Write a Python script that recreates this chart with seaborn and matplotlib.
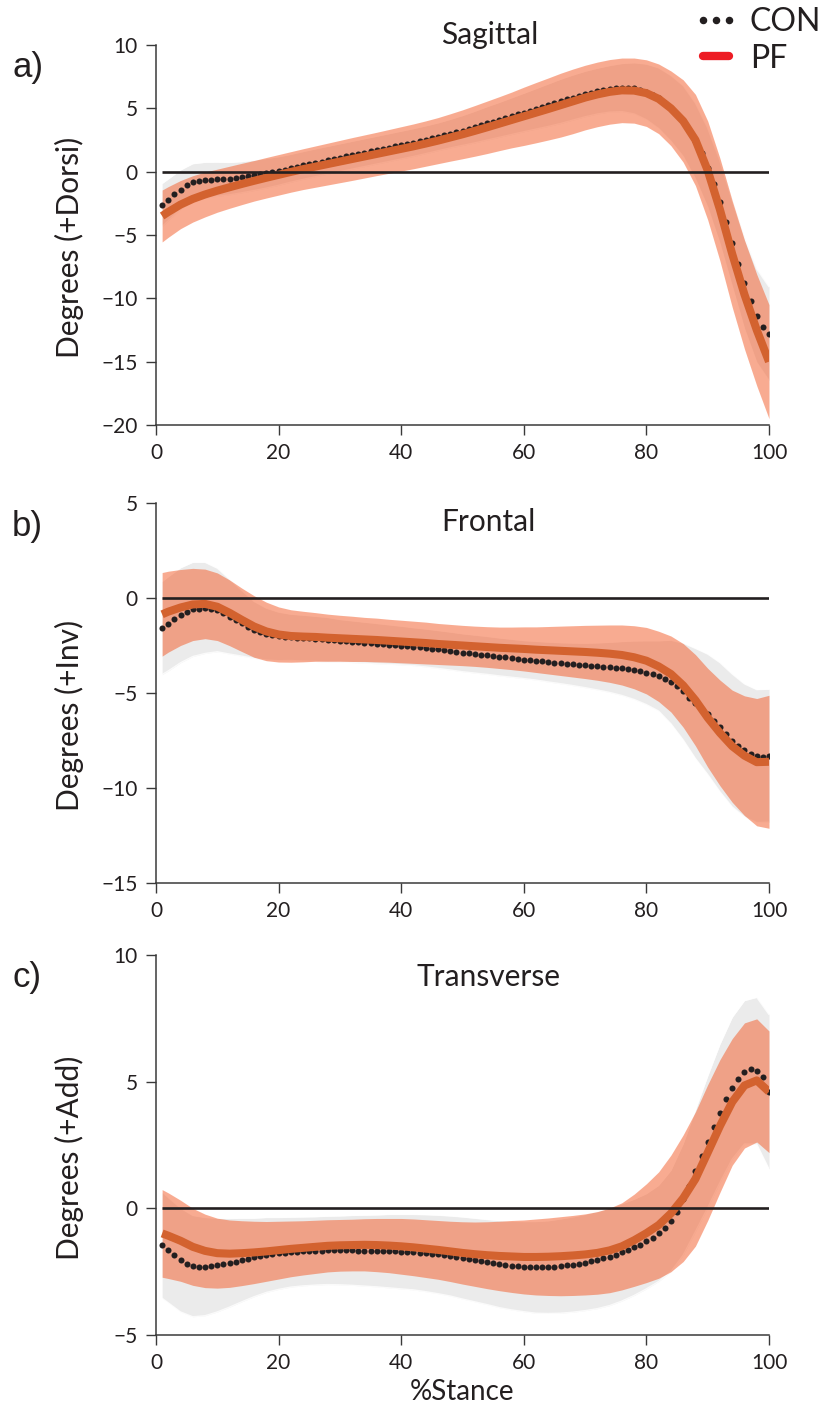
import numpy as np
import matplotlib
matplotlib.use("Agg")
import matplotlib.pyplot as plt
from matplotlib.lines import Line2D
import seaborn as sns

# % stance: controls are sampled every percent, PF mean and SD bands every 2 %
stance = np.arange(1, 101)
knots = np.r_[1, np.arange(2, 101, 2)]

# ---- Sagittal plane (+Dorsi) ----
sag_con = [
    -2.63, -2.23, -1.80, -1.42, -1.07, -0.85, -0.74, -0.68, -0.63, -0.60,
    -0.58, -0.55, -0.50, -0.44, -0.37, -0.29, -0.21, -0.13, -0.05, 0.05,
    0.16, 0.27, 0.38, 0.49, 0.60, 0.70, 0.80, 0.90, 1.00, 1.10,
    1.20, 1.30, 1.40, 1.50, 1.60, 1.70, 1.80, 1.90, 2.00, 2.10,
    2.20, 2.30, 2.40, 2.52, 2.63, 2.75, 2.87, 3.00, 3.12, 3.25,
    3.39, 3.52, 3.66, 3.81, 3.95, 4.09, 4.24, 4.38, 4.53, 4.67,
    4.82, 4.96, 5.11, 5.25, 5.40, 5.55, 5.70, 5.85, 6.00, 6.13,
    6.25, 6.36, 6.46, 6.54, 6.60, 6.64, 6.64, 6.58, 6.48, 6.30,
    6.08, 5.80, 5.43, 5.00, 4.52, 4.00, 3.24, 2.42, 1.45, 0.32,
    -0.97, -2.42, -3.99, -5.65, -7.28, -8.81, -10.20, -11.37, -12.23, -12.79,
]
sag_con_sd = [
    1.70, 1.65, 1.55, 1.48, 1.42, 1.35, 1.28, 1.23, 1.20, 1.17,
    1.13, 1.10, 1.10, 1.10, 1.10, 1.10, 1.10, 1.10, 1.10, 1.10,
    1.10, 1.10, 1.10, 1.10, 1.13, 1.18, 1.25, 1.32, 1.38, 1.45,
    1.52, 1.60, 1.68, 1.75, 1.78, 1.80, 1.81, 1.84, 1.90, 2.02,
    2.20, 2.40, 2.60, 2.80, 3.00, 3.13, 3.27, 3.40, 3.60, 3.70,
    3.70,
]
sag_pf = [
    -3.50, -3.18, -2.60, -2.15, -1.80, -1.50, -1.23, -0.97, -0.72, -0.48,
    -0.25, -0.02, 0.20, 0.40, 0.60, 0.80, 1.00, 1.20, 1.40, 1.60,
    1.80, 2.00, 2.22, 2.45, 2.70, 2.95, 3.22, 3.50, 3.79, 4.08,
    4.37, 4.66, 4.95, 5.25, 5.55, 5.85, 6.10, 6.30, 6.42, 6.40,
    6.20, 5.75, 5.00, 4.00, 2.50, 0.10, -3.00, -6.50, -9.70, -12.50,
    -15.00,
]
sag_pf_sd = [
    2.05, 2.00, 1.90, 1.83, 1.77, 1.70, 1.66, 1.63, 1.60, 1.60,
    1.60, 1.60, 1.61, 1.63, 1.65, 1.67, 1.69, 1.70, 1.71, 1.73,
    1.75, 1.77, 1.79, 1.82, 1.87, 1.93, 2.00, 2.07, 2.13, 2.20,
    2.30, 2.38, 2.45, 2.52, 2.55, 2.55, 2.55, 2.55, 2.55, 2.57,
    2.63, 2.75, 2.95, 3.25, 3.60, 3.90, 4.05, 4.20, 4.30, 4.40,
    4.50,
]

# ---- Frontal plane (+Inv) ----
front_con = [
    -1.58, -1.36, -1.13, -0.91, -0.72, -0.60, -0.56, -0.52, -0.56, -0.63,
    -0.80, -0.98, -1.15, -1.33, -1.52, -1.68, -1.80, -1.90, -1.97, -2.02,
    -2.05, -2.07, -2.09, -2.11, -2.13, -2.15, -2.17, -2.20, -2.22, -2.25,
    -2.27, -2.30, -2.32, -2.35, -2.37, -2.40, -2.42, -2.45, -2.48, -2.50,
    -2.53, -2.56, -2.60, -2.63, -2.67, -2.71, -2.75, -2.79, -2.84, -2.88,
    -2.91, -2.95, -2.98, -3.02, -3.06, -3.10, -3.13, -3.17, -3.20, -3.24,
    -3.27, -3.30, -3.33, -3.37, -3.40, -3.43, -3.46, -3.49, -3.52, -3.55,
    -3.57, -3.60, -3.62, -3.65, -3.68, -3.71, -3.75, -3.80, -3.86, -3.93,
    -4.00, -4.10, -4.24, -4.42, -4.62, -4.92, -5.25, -5.55, -5.82, -6.12,
    -6.45, -6.80, -7.15, -7.50, -7.78, -8.02, -8.20, -8.32, -8.37, -8.30,
]
front_con_sd = [
    2.45, 2.48, 2.50, 2.48, 2.40, 2.20, 1.97, 1.73, 1.50, 1.37,
    1.28, 1.22, 1.21, 1.19, 1.18, 1.12, 1.10, 1.08, 1.06, 1.04,
    1.02, 1.00, 1.00, 1.00, 1.00, 1.00, 1.00, 1.00, 1.00, 1.00,
    1.00, 1.02, 1.05, 1.08, 1.12, 1.17, 1.24, 1.32, 1.42, 1.54,
    1.68, 1.85, 2.20, 2.55, 2.90, 3.17, 3.40, 3.50, 3.50, 3.50,
    3.50,
]
front_pf = [
    -0.86, -0.72, -0.50, -0.34, -0.31, -0.46, -0.78, -1.15, -1.50, -1.76,
    -1.92, -2.00, -2.03, -2.05, -2.09, -2.12, -2.15, -2.18, -2.21, -2.25,
    -2.29, -2.33, -2.37, -2.42, -2.46, -2.50, -2.54, -2.58, -2.62, -2.65,
    -2.68, -2.72, -2.75, -2.78, -2.81, -2.84, -2.88, -2.93, -3.00, -3.12,
    -3.30, -3.60, -4.00, -4.60, -5.38, -6.30, -7.10, -7.80, -8.30, -8.64,
    -8.62,
]
front_pf_sd = [
    2.20, 2.13, 2.00, 1.90, 1.83, 1.78, 1.73, 1.67, 1.62, 1.54,
    1.45, 1.38, 1.33, 1.28, 1.24, 1.21, 1.19, 1.16, 1.15, 1.13,
    1.12, 1.11, 1.10, 1.08, 1.07, 1.06, 1.06, 1.07, 1.09, 1.12,
    1.16, 1.20, 1.25, 1.30, 1.35, 1.40, 1.45, 1.51, 1.58, 1.66,
    1.75, 1.85, 2.00, 2.20, 2.40, 2.60, 2.78, 2.95, 3.15, 3.35,
    3.50,
]

# ---- Transverse plane (+Add) ----
trans_con = [
    -1.45, -1.65, -1.84, -2.04, -2.20, -2.28, -2.30, -2.30, -2.28, -2.24,
    -2.20, -2.15, -2.11, -2.04, -1.99, -1.94, -1.88, -1.84, -1.82, -1.78,
    -1.75, -1.73, -1.71, -1.70, -1.69, -1.68, -1.67, -1.66, -1.66, -1.66,
    -1.66, -1.66, -1.67, -1.67, -1.68, -1.68, -1.69, -1.69, -1.70, -1.71,
    -1.72, -1.73, -1.75, -1.77, -1.79, -1.82, -1.85, -1.88, -1.92, -1.96,
    -2.00, -2.04, -2.08, -2.12, -2.16, -2.20, -2.23, -2.26, -2.28, -2.30,
    -2.32, -2.33, -2.33, -2.32, -2.30, -2.28, -2.25, -2.22, -2.18, -2.14,
    -2.09, -2.04, -1.98, -1.92, -1.84, -1.74, -1.64, -1.54, -1.43, -1.30,
    -1.16, -0.99, -0.78, -0.50, -0.15, 0.35, 0.90, 1.48, 2.05, 2.62,
    3.20, 3.75, 4.30, 4.74, 5.10, 5.37, 5.49, 5.43, 5.18, 4.60,
]
trans_con_sd = [
    2.10, 2.08, 2.05, 2.00, 1.94, 1.85, 1.75, 1.65, 1.55, 1.48,
    1.42, 1.38, 1.36, 1.35, 1.35, 1.36, 1.38, 1.40, 1.42, 1.45,
    1.47, 1.49, 1.52, 1.55, 1.58, 1.62, 1.65, 1.68, 1.72, 1.75,
    1.78, 1.81, 1.83, 1.86, 1.88, 1.90, 1.92, 1.92, 1.92, 1.90,
    1.88, 1.90, 2.00, 2.20, 2.40, 2.60, 2.73, 2.80, 2.83, 2.90,
    3.05,
]
trans_pf = [
    -0.99, -1.08, -1.28, -1.52, -1.68, -1.77, -1.79, -1.77, -1.74, -1.70,
    -1.65, -1.60, -1.56, -1.52, -1.48, -1.46, -1.45, -1.44, -1.45, -1.47,
    -1.50, -1.54, -1.59, -1.64, -1.70, -1.76, -1.81, -1.85, -1.88, -1.90,
    -1.92, -1.92, -1.91, -1.89, -1.86, -1.82, -1.76, -1.66, -1.50, -1.26,
    -0.98, -0.66, -0.20, 0.40, 1.16, 2.20, 3.25, 4.20, 4.85, 5.05,
    4.60,
]
trans_pf_sd = [
    1.73, 1.69, 1.60, 1.52, 1.45, 1.38, 1.33, 1.28, 1.23, 1.18,
    1.14, 1.10, 1.07, 1.05, 1.03, 1.02, 1.02, 1.03, 1.05, 1.07,
    1.10, 1.12, 1.14, 1.16, 1.19, 1.23, 1.27, 1.32, 1.37, 1.42,
    1.46, 1.50, 1.53, 1.56, 1.58, 1.60, 1.63, 1.67, 1.72, 1.82,
    1.95, 2.10, 2.30, 2.50, 2.65, 2.68, 2.62, 2.50, 2.47, 2.43,
    2.40,
]

panel_titles = ["Sagittal", "Frontal", "Transverse"]
panel_letters = ["a)", "b)", "c)"]
panel_ylabels = ["Degrees (+Dorsi)", "Degrees (+Inv)", "Degrees (+Add)"]
panel_ylims = [(-20, 10), (-15, 5), (-5, 10)]
x_ticks = [0, 20, 40, 60, 80, 100]
group_labels = ["CON", "PF"]

INK = "#231f20"
CON_BAND = "#ebebeb"
PF_BAND = "#f35925"
PF_LINE = "#d3622f"
LEGEND_RED = "#ed1c24"

sns.set_theme(style="ticks")
plt.rcParams["font.family"] = ["Lato", "DejaVu Sans"]
plt.rcParams["axes.unicode_minus"] = True

fig = plt.figure(figsize=(8.24, 14.16), dpi=100)
W, H = 824.0, 1416.0

# axes boxes in pixels: (left, top, right, bottom)
boxes = [(156, 45, 769, 425), (156, 503, 769, 883), (156, 955, 769, 1335)]
title_pos = [(0.545, 1.026), (0.542, 0.950), (0.542, 0.943)]
ylabel_y = [0.468, 0.442, 0.466]

series = [
    (sag_con, sag_con_sd, sag_pf, sag_pf_sd),
    (front_con, front_con_sd, front_pf, front_pf_sd),
    (trans_con, trans_con_sd, trans_pf, trans_pf_sd),
]

for i, (con, con_sd, pf, pf_sd) in enumerate(series):
    l, t, r, b = boxes[i]
    ax = fig.add_axes([l / W, 1 - b / H, (r - l) / W, (b - t) / H])
    con = np.asarray(con)
    con_k = con[knots - 1]
    con_sd = np.asarray(con_sd)
    pf = np.asarray(pf)
    pf_sd = np.asarray(pf_sd)

    # control SD band, with faint light edges that show through the PF band
    ax.fill_between(knots, con_k - con_sd, con_k + con_sd,
                    color=CON_BAND, lw=0, zorder=1)
    for edge in (con_k - con_sd, con_k + con_sd):
        ax.plot(knots, edge, color="white", lw=1.0, alpha=0.8, zorder=1.5)
    ax.fill_between(knots, pf - pf_sd, pf + pf_sd,
                    color=PF_BAND, alpha=0.5, lw=0, zorder=2)
    sns.scatterplot(x=stance, y=con, color=INK, s=19, linewidth=0,
                    ax=ax, zorder=4)
    sns.lineplot(x=knots, y=pf, color=PF_LINE, lw=5.8, ax=ax, zorder=5,
                 solid_capstyle="butt", solid_joinstyle="round")
    ax.hlines(0, stance[0], stance[-1], color=INK, lw=1.9, zorder=6)

    ax.set_xlim(0, 100)
    ax.set_ylim(*panel_ylims[i])
    ax.set_xticks(x_ticks)
    lo, hi = panel_ylims[i]
    ax.set_yticks(np.arange(lo, hi + 1, 5))
    sns.despine(ax=ax)
    for side in ("left", "bottom"):
        ax.spines[side].set_color("#3a3a3a")
        ax.spines[side].set_linewidth(1.1)
    ax.tick_params(direction="out", length=7, width=1.0, color="#3a3a3a",
                   labelsize=15, labelcolor=INK, pad=6)
    ax.set_xlabel("")
    ax.set_ylabel(panel_ylabels[i], fontsize=21.5, color=INK)
    ax.yaxis.set_label_coords(-0.117, ylabel_y[i])
    ax.text(title_pos[i][0], title_pos[i][1], panel_titles[i],
            transform=ax.transAxes, ha="center", va="center",
            fontsize=21.5, color=INK)
    fig.text(12 / W, 1 - (68 + (boxes[i][1] - 45)) / H, panel_letters[i],
             ha="left", va="center", fontsize=25, color=INK,
             family=["Liberation Sans", "DejaVu Sans"])

    if i == 2:
        ax.set_xlabel("%Stance", fontsize=20, color=INK, labelpad=4)

handles = [
    Line2D([], [], ls="none", marker="o", ms=4.4, color=INK),
    Line2D([], [], color=LEGEND_RED, lw=6),
]
fig.legend(handles, group_labels, loc="upper right",
           bbox_to_anchor=(1.012, 1.004), frameon=False, fontsize=23,
           numpoints=3, handlelength=1.4, handletextpad=0.35,
           labelspacing=0.2, borderaxespad=0.0, labelcolor=INK)

fig.savefig("out.png", dpi=100)
